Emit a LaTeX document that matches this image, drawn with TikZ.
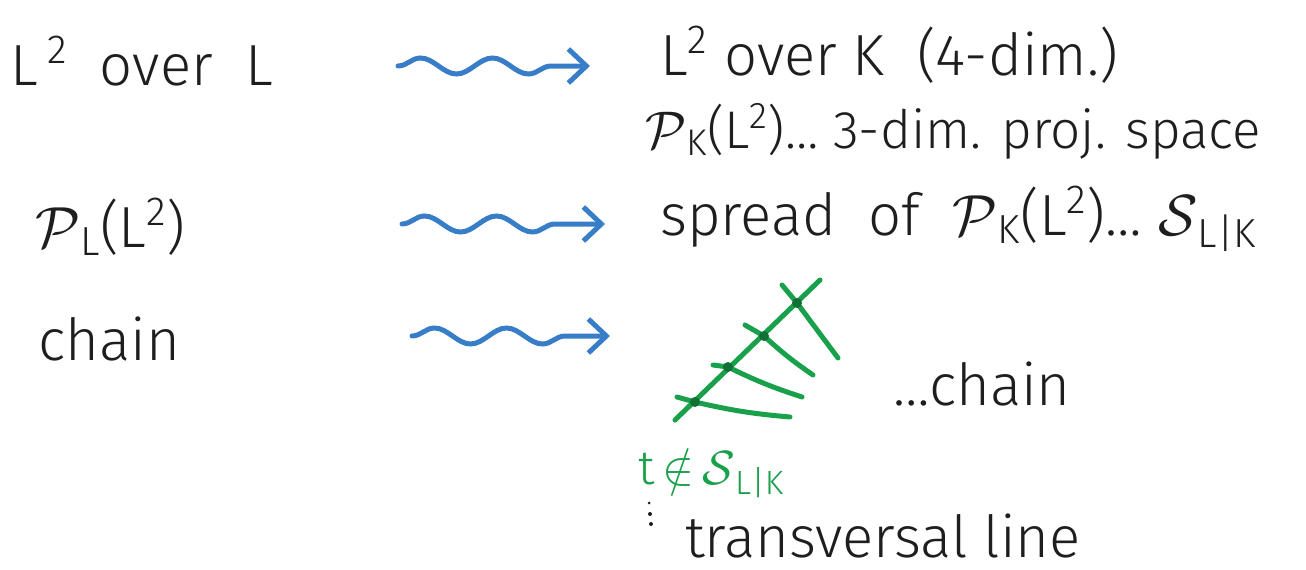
\documentclass[tikz,border=0pt]{standalone}
\usepackage{fix-cm}
\usepackage{fontspec}
\setmainfont{Fira Sans Light}
\usetikzlibrary{decorations.pathmorphing,arrows.meta}
\definecolor{pen}{RGB}{30,30,30}
\definecolor{bluepen}{RGB}{55,125,200}
\definecolor{greenpen}{RGB}{25,160,75}
\tikzset{
  txt/.style={anchor=base west,inner sep=0pt,text=pen,font=\fontsize{58}{60}\selectfont},
  wavy/.style={draw=bluepen,line width=5pt,line cap=round,
    decorate,decoration={snake,amplitude=8pt,segment length=72pt,post length=18pt},
    -{Straight Barb[length=18pt,width=34pt,line width=5pt]}},
  gline/.style={draw=greenpen,line width=5pt,line cap=round},
  gdot/.style={circle,fill=greenpen!70!black,inner sep=0pt,minimum size=10pt},
  pdot/.style={circle,fill=pen,inner sep=0pt,minimum size=4pt},
}
\newcommand{\scrP}{$\mathcal{P}$}
\newcommand{\scrS}{$\mathcal{S}$}
\newcommand{\sqr}{\,\textsuperscript{2}}
\begin{document}
\begin{tikzpicture}[x=1pt,y=-1pt]
\useasboundingbox (0,0) rectangle (1306,570);
% left column
\node[txt] (l1) at (10,85) {L\sqr\ \ over \ L};
\node[txt] (l2) at (35,247) {\scrP\textsubscript{L}(L\textsuperscript{2})};
\node[txt] (l3) at (38,360) {chain};
% right column
\node[txt] (r1) at (660,75) {L\textsuperscript{2} over K \ (4-dim.)};
\node[txt,font=\fontsize{53}{55}\selectfont] (r2) at (645,148) {\scrP\textsubscript{K}(L\textsuperscript{2})\ldots\ 3-dim. proj. space};
\node[txt] (r3) at (660,235) {spread \ of \ \scrP\textsubscript{K}(L\textsuperscript{2})\ldots\ \scrS\textsubscript{L|K}};
\node[txt] (r4) at (893,405) {\ldots chain};
\node[txt,text=greenpen,font=\fontsize{48}{50}\selectfont] (r5) at (638,484) {t$\,\notin\,$\scrS\textsubscript{L|K}};
\node[txt] (r6) at (685,557) {transversal line};
\node[pdot,minimum size=3pt] (p1) at (649,503) {};
\node[pdot] (p2) at (650,514) {};
\node[pdot] (p3) at (651,524) {};
% arrows
\coordinate (a1s) at (398,66);
\coordinate (a1e) at (590,66);
\coordinate (a2s) at (402,224);
\coordinate (a2e) at (605,224);
\coordinate (a3s) at (412,336);
\coordinate (a3e) at (610,336);
\draw[wavy] (a1s) -- (a1e);
\draw[wavy] (a2s) -- (a2e);
\draw[wavy] (a3s) -- (a3e);
% green chain
\coordinate (m0) at (675,420);
\coordinate (m1) at (820,280);
\coordinate (d1) at (695,402);
\coordinate (d2) at (728,367);
\coordinate (d3) at (764,336);
\coordinate (d4) at (797,303);
\coordinate (c1a) at (677,397); \coordinate (c1b) at (790,417);
\coordinate (c2a) at (713,365); \coordinate (c2b) at (802,397);
\coordinate (c3a) at (745,325); \coordinate (c3b) at (813,375);
\coordinate (c4a) at (782,285); \coordinate (c4b) at (838,358);
\draw[gline] (m0) -- (m1);
\draw[gline] (c1a) -- (d1) to[bend right=4] (c1b);
\draw[gline] (c2a) -- (d2) to[bend right=4] (c2b);
\draw[gline] (c3a) -- (d3) to[bend right=4] (c3b);
\draw[gline] (c4a) -- (d4) -- (c4b);
\foreach \d in {d1,d2,d3,d4} \node[gdot] at (\d) {};
\end{tikzpicture}
\end{document}
